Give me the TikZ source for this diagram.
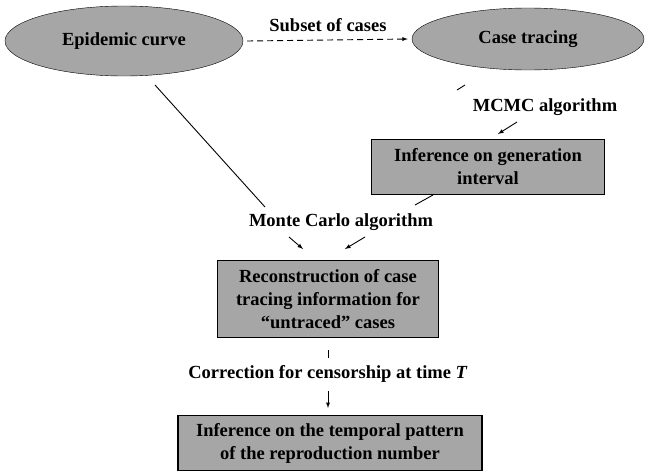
\documentclass[tikz,border=0pt]{standalone}
\usepackage{fontspec}
\setmainfont{Liberation Serif}
\usetikzlibrary{shapes.geometric,arrows}

\begin{document}
\begin{tikzpicture}[
            x=1pt, y=-1pt,
            >=latex,
            every node/.style={font=\fontsize{18.5}{23}\selectfont\bfseries, inner sep=0pt},
            oval/.style={ellipse, draw, fill=black!35},
            box/.style={draw, line width=1.1pt, fill=black!35, align=center},
            % edge from parent/.style={draw, -latex},
            link/.style={line width=0.9pt}
        ]
        \useasboundingbox (0,0) rectangle (646,471);
        \node[oval, minimum width=238, minimum height=70] (epi) at (124,41) {Epidemic curve};
        \node[oval, minimum width=232, minimum height=62] (trace) at (528,39) {Case tracing};
        \node (subset) at (328,25) {Subset of cases};
        \node (mcmc) at (545,107) {MCMC algorithm};
        \node[box, minimum width=233, minimum height=55] (gen) at (488,167)
            {Inference on generation\\interval};
        \node (mc) at (341,222) {Monte Carlo algorithm};
        \node[box, minimum width=221, minimum height=77] (recon) at (328,299)
            {Reconstruction of case\\tracing information for\\``untraced'' cases};
        \node (corr) at (328,374) {Correction for censorship at time \textit{T}};
        \node[box, minimum width=304, minimum height=55] (rep) at (330,443)
            {Inference on the temporal pattern\\of the reproduction number};
        % Free ends of the short connectors
        \coordinate (e1) at (155,85);   \coordinate (e2) at (265,207);
        \coordinate (t1) at (465,85);   \coordinate (t2) at (457,90);
        \coordinate (m1) at (517,122);  \coordinate (m2) at (498,134);
        \coordinate (g1) at (433,195);  \coordinate (g2) at (415,205);
        \coordinate (l1) at (289,237);  \coordinate (l2) at (303,249);
        \coordinate (r1) at (365,237);  \coordinate (r2) at (345,249);
        \coordinate (c1) at (328,350);  \coordinate (c2) at (328,358);
        \coordinate (k1) at (328,391);  \coordinate (k2) at (328,408);
        \draw[link, dash pattern=on 6pt off 4pt, ->] (epi.east) ++(4,0) -- ([xshift=-4pt]trace.west);
        \foreach \a/\b in {e1/e2, t1/t2, g1/g2, c1/c2}
            \draw[link] (\a) -- (\b);
        \foreach \a/\b in {m1/m2, l1/l2, r1/r2, k1/k2}
            \draw[link, ->] (\a) -- (\b);
        \end{tikzpicture}
\end{document}
